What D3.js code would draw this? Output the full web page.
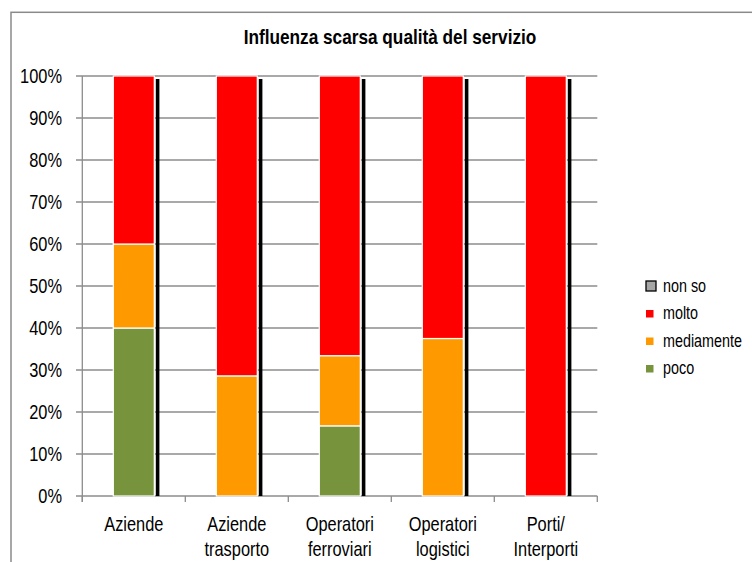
<!DOCTYPE html>
<html>
<head>
<meta charset="utf-8">
<script src="https://cdn.jsdelivr.net/npm/d3@7"></script>
<style>
  html, body { margin: 0; padding: 0; background: #fff; }
  svg { display: block; }
  text { font-family: "Liberation Sans Narrow", "Arial Narrow", "Liberation Sans", Arial, sans-serif; fill: #000; }
</style>
</head>
<body>
<svg id="chart" width="752" height="562"></svg>
<script>
// ---- data ----
const title = "Influenza scarsa qualità del servizio";
const categories = ["Aziende", "Aziende\ntrasporto", "Operatori\nferroviari", "Operatori\nlogistici", "Porti/\nInterporti"];
const poco       = [40, 0, 16.7, 0, 0];
const mediamente = [20, 28.6, 16.7, 37.5, 0];
const molto      = [40, 71.4, 66.6, 62.5, 100];
const nonSo      = [0, 0, 0, 0, 0];
const seriesNames = ["poco", "mediamente", "molto", "non so"];
const seriesColors = ["#77933C", "#FF9900", "#FF0000", "#A6A6A6"];
const legendOrder = ["non so", "molto", "mediamente", "poco"];
const yTicks = [0, 10, 20, 30, 40, 50, 60, 70, 80, 90, 100];

// ---- build ----
const svg = d3.select("#chart");
const SX = 0.82; // narrow font emulation
const seriesValues = [poco, mediamente, molto, nonSo];
const rows = categories.map((c, i) => {
  const r = { cat: c };
  seriesNames.forEach((s, k) => r[s] = seriesValues[k][i]);
  return r;
});
const stack = d3.stack().keys(seriesNames)(rows);

const x = d3.scaleBand().domain(categories).range([82.3, 597.3]).paddingInner(0).paddingOuter(0);
const y = d3.scaleLinear().domain([0, 100]).range([496, 76]);
const color = d3.scaleOrdinal().domain(seriesNames).range(seriesColors);
const barW = 41;
const barX = c => x(c) + x.bandwidth() / 2 - barW / 2;
const place = (px, py) => `translate(${px},${py}) scale(${SX},1)`;

// outer border
svg.append("rect").attr("x", 11).attr("y", 12.3).attr("width", 800).attr("height", 600)
  .attr("fill", "none").attr("stroke", "#8a8a8a").attr("stroke-width", 1.5);

// title
svg.append("text").attr("transform", place(390, 43.5)).attr("text-anchor", "middle")
  .style("font-size", "21px").style("font-weight", "bold").text(title);

// gridlines
svg.append("g").selectAll("line").data(yTicks).join("line")
  .attr("x1", 76).attr("x2", 597.3)
  .attr("y1", d => y(d)).attr("y2", d => y(d))
  .attr("stroke", "#8c8c8c").attr("stroke-width", 1.3);

// y axis line
svg.append("line").attr("x1", 82.3).attr("x2", 82.3).attr("y1", y(100)).attr("y2", y(0) + 6)
  .attr("stroke", "#8c8c8c").attr("stroke-width", 1.3);

// y labels
svg.append("g").selectAll("text").data(yTicks).join("text")
  .attr("transform", d => place(62, y(d) + 7)).attr("text-anchor", "end")
  .style("font-size", "20px").text(d => d + "%");

// x axis ticks at category boundaries
const bounds = categories.map(c => x(c)).concat([x(categories[categories.length - 1]) + x.bandwidth()]);
svg.append("g").selectAll("line").data(bounds).join("line")
  .attr("x1", d => d).attr("x2", d => d).attr("y1", y(0)).attr("y2", y(0) + 6)
  .attr("stroke", "#8c8c8c").attr("stroke-width", 1.3);

// shadows
const totals = rows.map(r => seriesNames.reduce((s, k) => s + r[k], 0));
svg.append("g").selectAll("rect").data(rows).join("rect")
  .attr("x", (d) => barX(d.cat) + barW + 1.5)
  .attr("width", 3.6)
  .attr("y", (d, i) => y(totals[i]) + 3)
  .attr("height", (d, i) => y(0) - y(totals[i]) - 3)
  .attr("fill", "#000");

// bars
svg.append("g").selectAll("g").data(stack).join("g")
  .attr("fill", d => color(d.key))
  .selectAll("rect").data(d => d.filter(s => s[1] - s[0] > 0)).join("rect")
  .attr("x", d => barX(d.data.cat))
  .attr("width", barW)
  .attr("y", d => y(d[1]))
  .attr("height", d => y(d[0]) - y(d[1]))
  .attr("stroke", "#fff").attr("stroke-width", 1.2);

// x labels
const xl = svg.append("g").selectAll("text").data(categories).join("text")
  .attr("transform", d => place(x(d) + x.bandwidth() / 2, 531))
  .attr("text-anchor", "middle").style("font-size", "20px");
xl.each(function(d) {
  const lines = d.split("\n");
  d3.select(this).selectAll("tspan").data(lines).join("tspan")
    .attr("x", 0).attr("dy", (l, i) => i === 0 ? 0 : 25.5).text(l => l);
});

// legend
const lg = svg.append("g").selectAll("g").data(legendOrder).join("g")
  .attr("transform", (d, i) => `translate(0, ${291.5 + i * 27.5})`);
lg.append("rect")
  .attr("x", 646)
  .attr("y", d => d === "non so" ? -10.5 : -9)
  .attr("width", d => d === "non so" ? 10 : 7.5)
  .attr("height", d => d === "non so" ? 10 : 7.5)
  .attr("fill", d => color(d))
  .attr("stroke", d => d === "non so" ? "#000" : "none")
  .attr("stroke-width", 1.3);
lg.append("text").attr("transform", place(663, 0)).style("font-size", "17.5px").text(d => d);
</script>
</body>
</html>
